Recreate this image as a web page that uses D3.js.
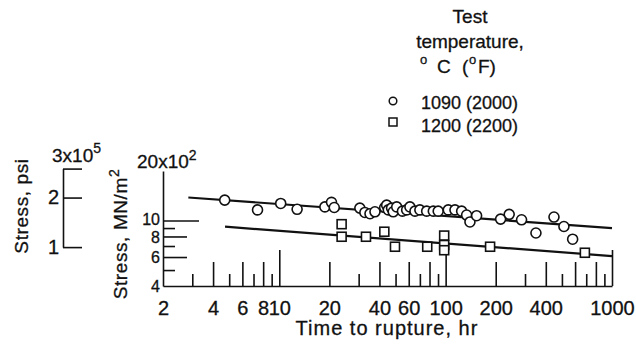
<!DOCTYPE html>
<html>
<head>
<meta charset="utf-8">
<script src="https://cdn.jsdelivr.net/npm/d3@7"></script>
<style>
	html, body { margin: 0; padding: 0; background: #fff; }
	svg { display: block; }
	text { font-family: 'Liberation Sans Narrow', 'Liberation Sans', sans-serif; fill: #111; stroke: #111; stroke-width: 0.3; }
	.axis path, .axis line { stroke: #111; stroke-width: 1.6; }
	.axis text { font-size: 20px; }
</style>
</head>
<body>
<svg id="chart" width="636" height="344"></svg>
<script>

// 1090 C (2000 F)
var circleTime = [4.7, 7.4, 10.2, 12.8, 18.8, 20.6, 21.4, 30.5, 32.7, 35.1, 37.6, 43, 44.2, 45.2, 47.3, 48.4, 50.8, 55, 58.3, 61, 65.4, 70, 76.9, 84.3, 90.2, 103.7, 113.8, 124.8, 133.7, 140, 153.5, 214, 241, 286, 349, 448, 514, 580];
var circleStress = [13.3, 11.6, 12.7, 11.7, 12.1, 12.9, 12.0, 11.9, 11.2, 11.0, 11.3, 12.0, 12.4, 11.6, 11.9, 11.3, 12.1, 11.4, 11.6, 12.1, 11.4, 11.6, 11.4, 11.4, 11.4, 11.6, 11.6, 11.4, 10.8, 9.8, 10.7, 10.2, 10.9, 10.1, 8.4, 10.5, 9.2, 7.7];

// 1200 C (2200 F)
var squareTime = [23.7, 23.7, 33.2, 42.8, 49.6, 77.5, 98, 98, 98, 185, 687];
var squareStress = [9.5, 7.97, 7.97, 8.55, 6.93, 6.93, 8.1, 7.1, 6.6, 6.93, 6.37];

// fitted lines (end points)
var circleFitTime = [2.84, 1000];
var circleFitStress = [13.8, 9.0];
var squareFitTime = [4.72, 1000];
var squareFitStress = [9.17, 6.08];

var xTicks = [3, 4, 5, 6, 7, 8, 9, 10, 20, 30, 40, 50, 60, 70, 80, 90, 100, 200, 300, 400, 500, 600, 700, 800, 900, 1000];
var xLabels = [2, 4, 6, 8, 10, 20, 40, 60, 100, 200, 400, 1000];
var yTicks = [5, 6, 7, 8, 9, 10];
var yLabels = [4, 6, 8, 10];
var psiTicks = [1, 2, 3];
var PSI = 6.895; // 10^5 psi -> 10^2 MN/m2

var svg = d3.select('#chart');

var x = d3.scaleLog().domain([2, 1000]).range([163, 612]);
var y = d3.scaleLog().domain([4, 20]).range([286, 171]);
var ypsi = d3.scaleLog().domain([1, 3]).range([y(1 * PSI), y(3 * PSI)]);

function ticklen(v) {
	var m = v / Math.pow(10, Math.floor(Math.log10(v) + 1e-9));
	if (Math.abs(m - 1) < 1e-6)
		return 36;
	return Math.round(m) % 2 === 0 ? 24 : 12;
}

// x axis
var gx = svg.append('g').attr('class', 'axis').attr('transform', 'translate(0,' + y(4) + ')')
	.call(d3.axisBottom(x).tickValues([2].concat(xTicks)).tickSizeOuter(0).tickPadding(9)
		.tickFormat(function(d) { return xLabels.indexOf(d) !== -1 ? d : ''; }));
gx.selectAll('.tick line').attr('y2', function(d) { return d === 2 ? 0 : -ticklen(d); });

// y axis (MN/m2)
var gy = svg.append('g').attr('class', 'axis').attr('transform', 'translate(' + x(2) + ',0)')
	.call(d3.axisLeft(y).tickValues([4].concat(yTicks)).tickSizeOuter(0).tickPadding(4)
		.tickFormat(function(d) { return yLabels.indexOf(d) !== -1 ? d : ''; }));
gy.selectAll('.tick line').attr('x2', function(d) { return d === 4 ? 0 : ticklen(d); });
gy.selectAll('.tick text').attr('x', -3).style('font-size', '16px')
	.attr('dy', function(d) { return d === 10 ? '0.22em' : d === 8 ? '0.4em' : '0.32em'; });

svg.append('text').attr('x', 137).attr('y', 168).style('font-size', '19px').text('20x10')
	.append('tspan').attr('dy', -8).style('font-size', '14px').text('2');

// psi axis
var gp = svg.append('g').attr('class', 'axis').attr('transform', 'translate(63,0)')
	.call(d3.axisLeft(ypsi).tickValues(psiTicks).tickSizeInner(-19).tickSizeOuter(0).tickPadding(4)
		.tickFormat(function(d) { return d === 3 ? '' : d; }));

svg.append('text').attr('x', 52).attr('y', 162).style('font-size', '19px').text('3x10')
	.append('tspan').attr('dy', -9).style('font-size', '14px').text('5');

// axis titles
svg.append('text').attr('transform', 'translate(28,206) rotate(-90)').attr('text-anchor', 'middle')
	.style('font-size', '19px').style('letter-spacing', '0.6px').text('Stress, psi');
var t2 = svg.append('text').attr('transform', 'translate(127,234) rotate(-90)').attr('text-anchor', 'middle')
	.style('font-size', '19px').style('letter-spacing', '0.6px').text('Stress, MN/m');
t2.append('tspan').attr('dy', -8).style('font-size', '14px').text('2');
svg.append('text').attr('x', 387).attr('y', 335).attr('text-anchor', 'middle')
	.style('font-size', '20px').style('letter-spacing', '1px').text('Time to rupture, hr');

// fit lines
var line = d3.line().x(function(d) { return x(d[0]); }).y(function(d) { return y(d[1]); });
svg.append('path').datum(d3.zip(circleFitTime, circleFitStress)).attr('d', line)
	.attr('fill', 'none').attr('stroke', '#111').attr('stroke-width', 2.2);
svg.append('path').datum(d3.zip(squareFitTime, squareFitStress)).attr('d', line)
	.attr('fill', 'none').attr('stroke', '#111').attr('stroke-width', 2.2);

// markers
svg.append('g').selectAll('circle').data(d3.zip(circleTime, circleStress)).enter().append('circle')
	.attr('cx', function(d) { return x(d[0]); }).attr('cy', function(d) { return y(d[1]); })
	.attr('r', 5).attr('fill', '#fff').attr('stroke', '#111').attr('stroke-width', 1.6);
svg.append('g').selectAll('rect').data(d3.zip(squareTime, squareStress)).enter().append('rect')
	.attr('x', function(d) { return x(d[0]) - 4.5; }).attr('y', function(d) { return y(d[1]) - 4.5; })
	.attr('width', 9).attr('height', 9).attr('fill', '#fff').attr('stroke', '#111').attr('stroke-width', 1.6);

// legend
var lg = svg.append('g');
lg.append('text').attr('x', 470).attr('y', 23).attr('text-anchor', 'middle').style('font-size', '19px').text('Test');
lg.append('text').attr('x', 470).attr('y', 48).attr('text-anchor', 'middle').style('font-size', '19px').text('temperature,');
lg.append('text').attr('x', 420).attr('y', 64).style('font-size', '13px').text('o');
lg.append('text').attr('x', 437).attr('y', 73).style('font-size', '19px').text('C');
lg.append('text').attr('x', 462).attr('y', 73).style('font-size', '19px').text('(');
lg.append('text').attr('x', 469).attr('y', 64).style('font-size', '13px').text('o');
lg.append('text').attr('x', 478).attr('y', 73).style('font-size', '19px').text('F)');

lg.append('circle').attr('cx', 393).attr('cy', 101).attr('r', 3.8).attr('fill', '#fff').attr('stroke', '#111').attr('stroke-width', 1.5);
lg.append('text').attr('x', 421).attr('y', 109).style('font-size', '18px').text('1090 (2000)');
lg.append('rect').attr('x', 389).attr('y', 118).attr('width', 8).attr('height', 8).attr('fill', '#fff').attr('stroke', '#111').attr('stroke-width', 1.5);
lg.append('text').attr('x', 421).attr('y', 132).style('font-size', '18px').text('1200 (2200)');

</script>
</body>
</html>
